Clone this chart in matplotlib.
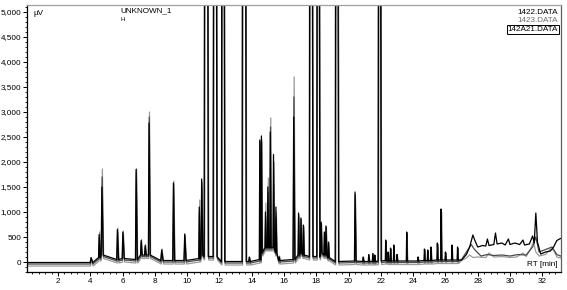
import matplotlib
matplotlib.use("Agg")
import matplotlib.pyplot as plt
from matplotlib.ticker import MultipleLocator, FuncFormatter
import numpy as np

plt.rcParams['font.family'] = ['Liberation Sans', 'DejaVu Sans']
plt.rcParams['font.size'] = 5.9

# peak table: retention time (min), half width (min), heights per run (uV)
rt = [4.05, 4.55, 4.72, 5.68, 6.02, 6.84, 7.15, 7.40, 7.64, 8.42,
      9.15, 9.85, 10.75, 10.90, 11.15, 11.70, 12.20, 13.50, 13.85, 14.50,
      14.60, 14.85, 15.00, 15.15, 15.35, 15.50, 15.70, 16.60, 16.90, 17.05,
      17.20, 17.65, 18.10, 18.30, 18.50, 18.60, 18.75, 19.25, 20.40, 20.90,
      21.25, 21.50, 21.62, 21.90, 22.30, 22.45, 22.60, 22.80, 23.00, 23.60,
      24.30, 24.70, 24.90, 25.10, 25.50, 25.73, 26.00, 26.40, 26.75]
width = [0.10, 0.06, 0.08, 0.07, 0.08, 0.07, 0.06, 0.06, 0.07, 0.09,
         0.07, 0.08, 0.05, 0.07, 0.16, 0.15, 0.13, 0.16, 0.06, 0.05,
         0.05, 0.05, 0.05, 0.05, 0.05, 0.05, 0.05, 0.07, 0.05, 0.05,
         0.05, 0.14, 0.12, 0.05, 0.05, 0.05, 0.05, 0.13, 0.06, 0.05,
         0.05, 0.05, 0.04, 0.12, 0.04, 0.04, 0.04, 0.04, 0.04, 0.04,
         0.04, 0.04, 0.04, 0.04, 0.04, 0.04, 0.04, 0.04, 0.04]
# level the peak sits on (clusters sit above baseline)
foot = [0, 100, 150, 60, 80, 60, 150, 150, 150, 40,
        40, 40, 80, 150, 120, 120, 20, 20, 20, 60,
        200, 300, 300, 300, 300, 200, 40, 60, 150, 200,
        150, 120, 120, 200, 150, 150, 100, 20, 30, 20,
        20, 20, 20, 30, 40, 30, 30, 30, 30, 30,
        30, 40, 40, 40, 50, 50, 50, 50, 50]
h_1422 = [90, 550, 1500, 650, 600, 1850, 430, 330, 2780, 230,
          1580, 560, 1100, 1660, 30000, 26000, 22000, 30000, 100, 2440,
          2520, 1000, 1500, 2600, 2150, 1100, 100, 2900, 980, 880,
          740, 26000, 22000, 800, 600, 720, 400, 24000, 1400, 100,
          150, 170, 140, 22000, 440, 200, 280, 340, 150, 600,
          100, 260, 240, 300, 380, 1060, 200, 340, 300]
h_1423 = [60, 600, 1860, 680, 620, 1870, 450, 350, 3000, 260,
          1620, 520, 1240, 1500, 28000, 24000, 20000, 28000, 80, 2300,
          2400, 1180, 1680, 2880, 1540, 1000, 120, 3700, 900, 800,
          700, 24000, 20000, 760, 560, 680, 380, 22000, 1300, 90,
          130, 150, 120, 20000, 400, 180, 250, 300, 130, 560,
          90, 230, 220, 270, 350, 1000, 180, 300, 260]
h_142A21 = [70, 500, 1700, 600, 560, 1800, 400, 300, 2900, 250,
            1550, 540, 1000, 1600, 32000, 28000, 24000, 32000, 90, 2400,
            2450, 900, 1400, 2700, 2000, 900, 100, 3300, 950, 850,
            720, 28000, 24000, 780, 580, 700, 390, 26000, 1350, 95,
            140, 160, 130, 24000, 420, 190, 260, 320, 140, 580,
            95, 250, 230, 290, 360, 1030, 190, 320, 280]
offset = {'1422': -10, '1423': -80, '142A21': -40}
# small retention time drift between runs (min)
drift = {'1422': 0.0, '1423': 0.03, '142A21': 0.015}

# late, noisy part of each run (t, uV)
late_t_1422 = [27.0, 27.3, 27.5, 27.7, 27.8, 28.0, 28.3, 28.5, 28.6, 28.7,
               29.0, 29.1, 29.2, 29.5, 29.7, 29.9, 30.0, 30.3, 30.6, 30.8,
               30.9, 31.2, 31.4, 31.5, 31.6, 31.7, 31.9, 32.2, 32.5, 32.7,
               32.9, 33.13]
late_1422 = [40, 150, 300, 540, 450, 300, 330, 320, 460, 330,
             350, 580, 360, 380, 340, 460, 350, 380, 350, 440,
             340, 360, 520, 380, 980, 400, 160, 200, 220, 300,
             430, 470]
late_t_1423 = [27.0, 27.3, 27.5, 27.7, 28.0, 28.5, 28.7, 29.0, 29.5, 30.0,
               30.4, 30.8, 31.0, 31.3, 31.45, 31.6, 31.8, 32.2, 32.5, 32.7,
               32.9, 33.13]
late_1423 = [30, 80, 140, 90, 100, 90, 180, 100, 110, 90,
             100, 180, 110, 280, 400, 200, 120, 150, 260, 240,
             100, 80]
late_t_142A21 = [27.0, 27.3, 27.6, 27.8, 28.2, 28.6, 29.0, 29.5, 30.0, 30.5,
                 31.0, 31.4, 31.6, 31.8, 32.2, 32.6, 32.9, 33.13]
late_142A21 = [50, 200, 350, 250, 120, 150, 130, 140, 120, 150,
               140, 300, 500, 200, 250, 300, 150, 120]


def trace(heights, off, dt, late_t, late_v):
    t = [0.08]
    v = [off]
    for r, w, f, h in zip(rt, width, foot, heights):
        t += [r + dt - 0.6 * w, r + dt, r + dt + w]
        v += [f + off, h, f + off]
    return np.array(t + late_t), np.array(v + late_v)


fig = plt.figure(figsize=(5.67, 2.90), dpi=100)
ax = fig.add_axes([0.0476, 0.062, 0.941, 0.921])

runs = [('1423', h_1423, late_t_1423, late_1423, '#9a9a9a'),
        ('142A21', h_142A21, late_t_142A21, late_142A21, '#4a4a4a'),
        ('1422', h_1422, late_t_1422, late_1422, '#000000')]
for name, h, lt, lv, col in runs:
    t, v = trace(h, offset[name], drift[name], lt, lv)
    ax.plot(t, v, color=col, lw=0.9)

ax.set_xlim(0.08, 33.13)
ax.set_ylim(-200, 5140)
ax.xaxis.set_major_locator(MultipleLocator(2))
ax.xaxis.set_minor_locator(MultipleLocator(0.4))
ax.yaxis.set_major_locator(MultipleLocator(500))
ax.yaxis.set_minor_locator(MultipleLocator(100))
ax.yaxis.set_major_formatter(FuncFormatter(lambda y, p: "{:,.0f}".format(y)))
ax.xaxis.set_major_formatter(FuncFormatter(lambda x, p: "%d" % x))
ax.tick_params(which='major', length=3, width=0.7, pad=1)
ax.tick_params(which='minor', length=1.5, width=0.6)
ax.spines['top'].set_color('#a0a0a0')
ax.spines['right'].set_color('#606060')
for s in ax.spines.values():
    s.set_linewidth(0.9)

ax.text(0.012, 0.982, u"\u00b5V", transform=ax.transAxes, va='top', ha='left')
ax.text(0.175, 0.99, "UNKNOWN_1", transform=ax.transAxes, va='top', ha='left')
ax.text(0.175, 0.955, "H", transform=ax.transAxes, va='top', ha='left',
        fontsize=4.5)
ax.text(0.995, 0.985, "1422.DATA", transform=ax.transAxes, va='top',
        ha='right', color='#000000')
ax.text(0.995, 0.953, "1423.DATA", transform=ax.transAxes, va='top',
        ha='right', color='#707070')
ax.text(0.995, 0.921, "142A21.DATA", transform=ax.transAxes, va='top',
        ha='right', color='#000000',
        bbox=dict(boxstyle='square,pad=0.1', fc='white', ec='black', lw=0.7))
ax.text(0.995, 0.015, "RT [min]", transform=ax.transAxes, va='bottom',
        ha='right')

fig.savefig('out.png', dpi=100)
